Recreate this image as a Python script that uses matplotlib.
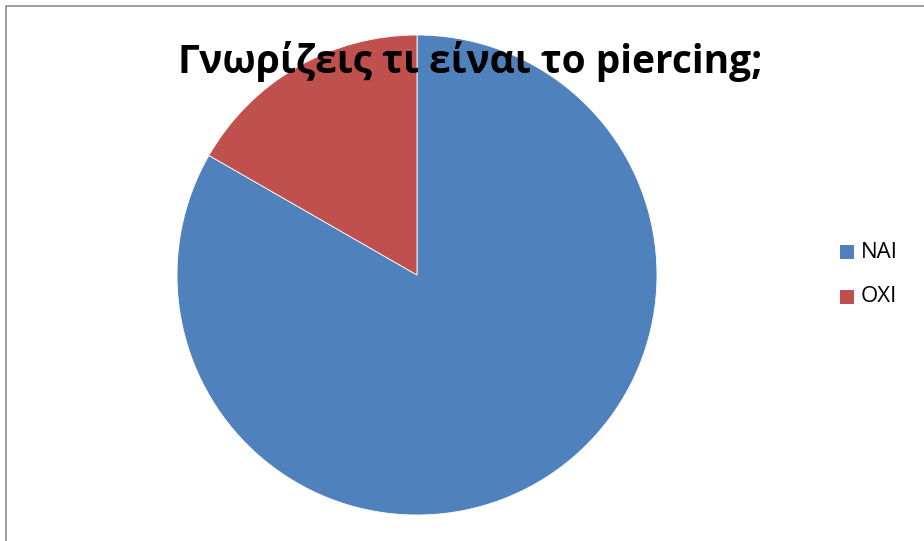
import matplotlib
matplotlib.use("Agg")
import matplotlib.pyplot as plt
from matplotlib.patches import Rectangle

labels = ["ΝΑΙ", "ΟΧΙ"]
values = [83.3, 16.7]
colors = ["#4F81BD", "#C0504D"]
title = "Γνωρίζεις τι είναι το piercing;"

W, H = 924, 541
fig = plt.figure(figsize=(W / 100, H / 100), dpi=100)
fig.patch.set_facecolor("white")

# chart-area frame
fig.patches.append(Rectangle((6 / W, -0.1), 1.2, 1 - 6 / H + 0.1,
                             transform=fig.transFigure, fill=False,
                             edgecolor="#8c8c8c", linewidth=1.2))

cx, cy, r = 417, 275, 240
ax = fig.add_axes([(cx - r) / W, (H - cy - r) / H, 2 * r / W, 2 * r / H])
wedges, _ = ax.pie(values, colors=colors, startangle=90, counterclock=False,
                   radius=1, wedgeprops=dict(edgecolor="white", linewidth=0.6))
ax.set_xlim(-1, 1)
ax.set_ylim(-1, 1)
ax.set_aspect("equal")
ax.axis("off")

fig.text(470 / W, 1 - 62 / H, title, ha="center", va="center",
         fontsize=28, fontweight="bold", family=["Open Sans", "DejaVu Sans"])

# legend
for i, (lab, col) in enumerate(zip(labels, colors)):
    y = 252 + i * 45
    fig.patches.append(Rectangle((840 / W, 1 - (y + 7) / H), 14 / W, 14 / H,
                                 transform=fig.transFigure, facecolor=col,
                                 edgecolor="none"))
    fig.text(861 / W, 1 - y / H, lab, ha="left", va="center",
             fontsize=16, family=["Open Sans", "DejaVu Sans"])

fig.savefig("out.png", dpi=100)
